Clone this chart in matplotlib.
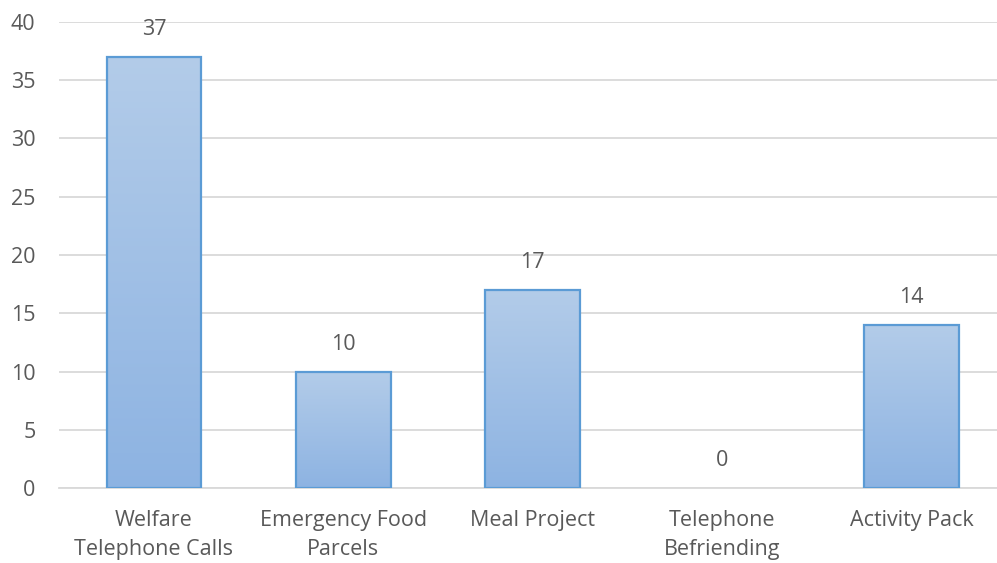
import matplotlib.pyplot as plt
import numpy as np
from matplotlib.colors import LinearSegmentedColormap

categories = ["Welfare\nTelephone Calls", "Emergency Food\nParcels", "Meal Project",
              "Telephone\nBefriending", "Activity Pack"]
values = [37, 10, 17, 0, 14]

plt.rcParams['font.family'] = ['Open Sans', 'DejaVu Sans']
text_color = "#595959"
grid_color = "#d9d9d9"

fig = plt.figure(figsize=(9.97, 5.63), dpi=100)
ax = fig.add_axes([0.0594, 0.133, 0.950, 0.828])

x = np.arange(len(values))
bars = ax.bar(x, values, width=0.5, facecolor="none", edgecolor="#5b9bd5",
              linewidth=1.6, zorder=3)

# vertical gradient fill, lighter at the top of each bar
grad = LinearSegmentedColormap.from_list("bar", ["#8db3e2", "#b3cce9"])
for b in bars:
    h = b.get_height()
    if h <= 0:
        b.set_edgecolor("none")
        continue
    x0 = b.get_x()
    w = b.get_width()
    img = ax.imshow(np.linspace(0, 1, 256).reshape(-1, 1), cmap=grad,
                    extent=(x0, x0 + w, 0, h), origin="lower", aspect="auto",
                    zorder=2)
    img.set_clip_path(b)

for xi, v in zip(x, values):
    ax.annotate(str(v), (xi, v), xytext=(0, 12), textcoords="offset points",
                ha="center", va="bottom", fontsize=15.5, color=text_color)

ax.set_xlim(-0.5, len(values) - 0.5)
ax.set_ylim(0, 40)
ax.set_yticks(range(0, 41, 5))
ax.set_xticks(x)
ax.set_xticklabels(categories, linespacing=1.5)
ax.tick_params(axis="both", length=0, labelsize=15.5, labelcolor=text_color)
ax.tick_params(axis="x", pad=16)
ax.tick_params(axis="y", pad=17)
ax.yaxis.grid(True, color=grid_color, linewidth=1.3, zorder=0)
ax.set_axisbelow(True)
for s in ["top", "right", "left"]:
    ax.spines[s].set_visible(False)
ax.spines["bottom"].set_color(grid_color)
ax.spines["bottom"].set_linewidth(1.3)

fig.savefig("out.png", dpi=100)
